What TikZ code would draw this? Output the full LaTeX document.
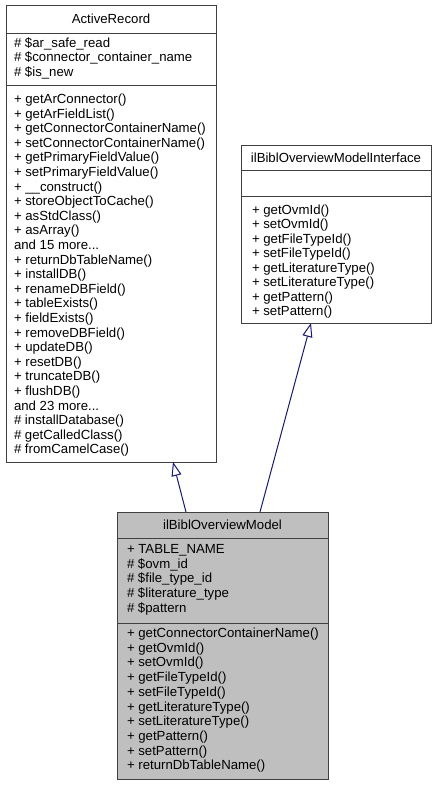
\documentclass[tikz,border=0pt]{standalone}
\usepackage{fontspec}
\setmainfont{Liberation Sans}
\usetikzlibrary{arrows.meta}
\definecolor{edgeblue}{HTML}{191970}
\definecolor{bord}{HTML}{404040}
\definecolor{hl}{HTML}{BFBFBF}
\newcommand\mydots{...}
\begin{document}
\begin{tikzpicture}[x=1pt,y=-1pt,
  box/.style={draw=bord, line width=1pt, anchor=north west, inner sep=0pt, outer sep=0pt},
  txt/.style={anchor=base west, inner sep=0pt, outer sep=0pt, font=\fontsize{13.2}{14.6}\selectfont},
  ttl/.style={anchor=base, inner sep=0pt, outer sep=0pt, font=\fontsize{13.2}{14.6}\selectfont},
  sep/.style={draw=bord, line width=1pt},
  inh/.style={draw=edgeblue, line width=1pt, -{Triangle[open, length=14pt, width=10pt, fill=white]}}]
\useasboundingbox[fill=white] (0,0) rectangle (437,785);

% ActiveRecord
\node[box, fill=white, minimum width=210pt, minimum height=457pt] (ar) at (6,5) {};
\draw[sep] ([yshift=-28pt]ar.north west) -- ([yshift=-28pt]ar.north east);
\draw[sep] ([yshift=-80pt]ar.north west) -- ([yshift=-80pt]ar.north east);
\node[ttl] (art) at (111,23.6) {ActiveRecord};
\foreach \t [count=\i] in {{\# \$ar\_safe\_read},{\# \$connector\_container\_name},{\# \$is\_new}}
  \node[txt, name=ara\i] at (14,{47+(\i-1)*14.5}) {\t};
\foreach \t [count=\i] in {{+ getArConnector()},{+ getArFieldList()},{+ getConnectorContainerName()},{+ setConnectorContainerName()},{+ getPrimaryFieldValue()},{+ setPrimaryFieldValue()},{+ \_\_construct()},{+ storeObjectToCache()},{+ asStdClass()},{+ asArray()},{and 15 more\mydots},{+ returnDbTableName()},{+ installDB()},{+ renameDBField()},{+ tableExists()},{+ fieldExists()},{+ removeDBField()},{+ updateDB()},{+ resetDB()},{+ truncateDB()},{+ flushDB()},{and 23 more\mydots},{\# installDatabase()},{\# getCalledClass()},{\# fromCamelCase()}}
  \node[txt, name=arm\i] at (14,{103.5+(\i-1)*14.6}) {\t};

% Interface
\node[box, fill=white, minimum width=190pt, minimum height=178pt] (if) at (241,145) {};
\draw[sep] ([yshift=-25pt]if.north west) -- ([yshift=-25pt]if.north east);
\draw[sep] ([yshift=-51pt]if.north west) -- ([yshift=-51pt]if.north east);
\node[ttl] (ift) at (336,162) {ilBiblOverviewModelInterface};
\foreach \t [count=\i] in {{+ getOvmId()},{+ setOvmId()},{+ getFileTypeId()},{+ setFileTypeId()},{+ getLiteratureType()},{+ setLiteratureType()},{+ getPattern()},{+ setPattern()}}
  \node[txt, name=ifm\i] at (252,{214+(\i-1)*14.57}) {\t};

% Model
\node[box, fill=hl, minimum width=211pt, minimum height=267pt] (m) at (117,512) {};
\draw[sep] ([yshift=-26pt]m.north west) -- ([yshift=-26pt]m.north east);
\draw[sep] ([yshift=-111pt]m.north west) -- ([yshift=-111pt]m.north east);
\node[ttl] (mt) at (222.5,529.6) {ilBiblOverviewModel};
\foreach \t [count=\i] in {{+ TABLE\_NAME},{\# \$ovm\_id},{\# \$file\_type\_id},{\# \$literature\_type},{\# \$pattern}}
  \node[txt, name=ma\i] at (127,{553.5+(\i-1)*14.65}) {\t};
\foreach \t [count=\i] in {{+ getConnectorContainerName()},{+ getOvmId()},{+ setOvmId()},{+ getFileTypeId()},{+ setFileTypeId()},{+ getLiteratureType()},{+ setLiteratureType()},{+ getPattern()},{+ setPattern()},{+ returnDbTableName()}}
  \node[txt, name=mm\i] at (127,{637.5+(\i-1)*14.7}) {\t};

% Inheritance
\draw[inh] ([xshift=69pt]m.north west) -- ([xshift=167pt]ar.south west);
\draw[inh] ([xshift=143pt]m.north west) -- ([xshift=70pt]if.south west);
\end{tikzpicture}
\end{document}
